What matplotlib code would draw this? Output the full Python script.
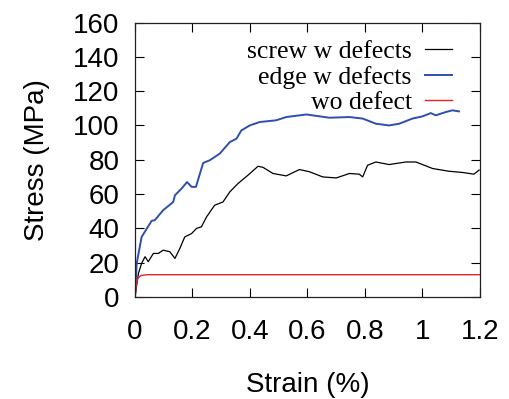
import matplotlib
matplotlib.use("Agg")
import matplotlib.pyplot as plt

# strain (%) / stress (MPa)
screw_strain = [0.0, 0.012, 0.023, 0.035, 0.046, 0.064, 0.081, 0.098, 0.121, 0.139, 0.156,
                0.173, 0.197, 0.214, 0.231, 0.249, 0.277, 0.306, 0.33, 0.358, 0.393, 0.428,
                0.445, 0.48, 0.526, 0.572, 0.607, 0.653, 0.7, 0.746, 0.78, 0.792, 0.809,
                0.838, 0.884, 0.942, 0.977, 1.035, 1.092, 1.139, 1.179, 1.197]
screw_stress = [0.0, 13.8, 19.6, 23.5, 20.6, 25.4, 25.4, 27.3, 26.4, 22.5, 28.3,
                35.0, 37.0, 40.0, 40.9, 46.7, 53.5, 55.4, 61.3, 66.1, 71.0, 76.2,
                75.6, 72.0, 70.6, 74.3, 73.0, 70.0, 69.4, 72.0, 71.6, 70.0, 76.8,
                78.7, 77.2, 78.7, 78.7, 74.9, 73.3, 72.6, 71.6, 74.0]

edge_strain = [0.0, 0.006, 0.023, 0.058, 0.069, 0.098, 0.133, 0.139, 0.162, 0.181, 0.197,
               0.212, 0.237, 0.26, 0.295, 0.33, 0.353, 0.37, 0.399, 0.434, 0.491, 0.526,
               0.596, 0.676, 0.746, 0.792, 0.838, 0.884, 0.919, 0.965, 1.0, 1.029, 1.046,
               1.081, 1.104, 1.127]
edge_stress = [0.0, 19.6, 35.0, 44.4, 44.8, 50.6, 55.4, 59.3, 63.2, 67.0, 64.2,
               64.2, 78.1, 79.7, 83.6, 90.3, 92.3, 97.1, 100.0, 102.0, 103.0, 104.9,
               106.4, 104.5, 104.9, 104.0, 101.0, 100.0, 101.0, 104.0, 105.3, 107.2, 105.9,
               107.8, 108.8, 108.2]

wo_strain = [0.0, 0.005, 0.01, 0.02, 0.04, 1.2]
wo_stress = [0.0, 8.0, 11.0, 12.5, 13.0, 13.0]

plt.rcParams['font.family'] = ['Liberation Sans', 'DejaVu Sans']

fig = plt.figure(figsize=(5.09, 3.99), dpi=100)
ax = fig.add_axes([0.2652, 0.2556, 0.6778, 0.688])

ax.plot(screw_strain, screw_stress, color='black', linewidth=0.9, label='screw w defects')
ax.plot(edge_strain, edge_stress, color='#2f4fae', linewidth=1.4, label='edge w defects')
ax.plot(wo_strain, wo_stress, color='#e3232b', linewidth=1.0, label='wo defect')

ax.set_xlim(0, 1.2)
ax.set_ylim(0, 160)
ax.set_xticks([0, 0.2, 0.4, 0.6, 0.8, 1.0, 1.2])
ax.set_xticklabels(['0', '0.2', '0.4', '0.6', '0.8', '1', '1.2'])
ax.set_yticks(range(0, 161, 20))
ax.tick_params(direction='in', top=True, right=True, length=6.5, width=0.8, labelsize=20)
ax.tick_params(axis='x', pad=16)
ax.tick_params(axis='y', pad=11)
for s in ax.spines.values():
    s.set_linewidth(0.9)
    s.set_color('#222222')

ax.set_xlabel('Strain (%)', fontsize=20, labelpad=19)
ax.set_ylabel('Stress (MPa)', fontsize=20, labelpad=17)

ax.legend(loc='upper right', bbox_to_anchor=(0.918, 0.935), frameon=False,
          markerfirst=False, prop={'family': 'Liberation Serif', 'size': 18.5},
          handlelength=1.05, handletextpad=0.5, labelspacing=0.1,
          borderpad=0, borderaxespad=0)

fig.savefig('out.png', dpi=100)
